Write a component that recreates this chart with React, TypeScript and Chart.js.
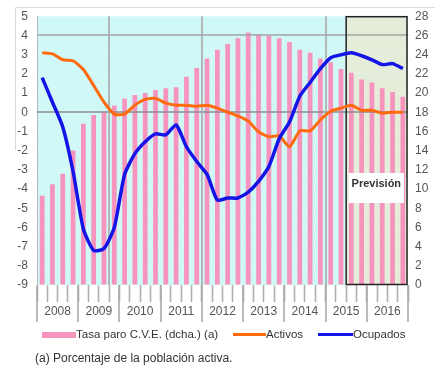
import React, { useEffect, useRef } from "react";
import { Chart, registerables } from "chart.js";

Chart.register(...registerables);

// ---------- data ----------
const quarters = [
  "2008-I", "2008-II", "2008-III", "2008-IV",
  "2009-I", "2009-II", "2009-III", "2009-IV",
  "2010-I", "2010-II", "2010-III", "2010-IV",
  "2011-I", "2011-II", "2011-III", "2011-IV",
  "2012-I", "2012-II", "2012-III", "2012-IV",
  "2013-I", "2013-II", "2013-III", "2013-IV",
  "2014-I", "2014-II", "2014-III", "2014-IV",
  "2015-I", "2015-II", "2015-III", "2015-IV",
  "2016-I", "2016-II", "2016-III", "2016-IV",
];
const yearLabels = ["2008", "2009", "2010", "2011", "2012", "2013", "2014", "2015", "2016"];

// Tasa de paro C.V.E. (% de la población activa, eje derecho)
const tasaParo = [
  9.3, 10.5, 11.6, 14.0,
  16.8, 17.7, 18.0, 18.7,
  19.4, 19.8, 20.0, 20.3,
  20.5, 20.6, 21.7, 22.6,
  23.6, 24.5, 25.1, 25.7,
  26.3, 26.1, 26.0, 25.7,
  25.3, 24.5, 24.2, 23.6,
  23.2, 22.5, 22.1, 21.4,
  21.1, 20.5, 20.1, 19.6,
];
// Activos (variación %, eje izquierdo)
const activos = [
  3.09, 3.04, 2.73, 2.68,
  2.22, 1.39, 0.52, -0.1,
  -0.1, 0.37, 0.67, 0.72,
  0.47, 0.36, 0.36, 0.31,
  0.36, 0.21, 0.0, -0.2,
  -0.46, -1.02, -1.28, -1.23,
  -1.8, -0.97, -0.97, -0.4,
  0.05, 0.21, 0.36, 0.1,
  0.1, -0.05, 0.0, 0.0,
];
// Ocupados (variación %, eje izquierdo)
const ocupados = [
  1.8, 0.52, -0.77, -3.09,
  -6.08, -7.2, -7.1, -6.0,
  -3.24, -2.16, -1.54, -1.13,
  -1.18, -0.66, -1.8, -2.57,
  -3.24, -4.58, -4.47, -4.47,
  -4.16, -3.6, -2.83, -1.38,
  -0.51, 0.83, 1.55, 2.27,
  2.84, 2.99, 3.09, 2.94,
  2.73, 2.48, 2.53, 2.27,
];

const leftMin = -9;
const leftMax = 5;
const rightMin = 0;
const rightMax = 28;
const forecastFrom = "2015-III";
const forecastLabel = "Previsión";
const markedBoundaries = ["2009-IV", "2012-I", "2015-I"];
const markedLeftValues = [0, 4];

// ---------- styles ----------
const PINK = "#f794bd";
const ORANGE = "#ff6a0d";
const BLUE = "#1414e6";
const FONT = '"Liberation Sans", Arial, sans-serif';

const decorPlugin = {
  id: "decor",
  beforeDraw(chart: any) {
    const { ctx, chartArea: a, scales } = chart;
    const x = scales.x;
    const half = (x.getPixelForValue(1) - x.getPixelForValue(0)) / 2;
    ctx.save();
    ctx.fillStyle = "#d0f8f7";
    ctx.fillRect(a.left, a.top, a.right - a.left, a.bottom - a.top);
    const fx = x.getPixelForValue(quarters.indexOf(forecastFrom)) - half;
    ctx.fillStyle = "#e4ecda";
    ctx.fillRect(fx, a.top, a.right - fx, a.bottom - a.top);
    // outer frame
    ctx.strokeStyle = "#dadada";
    ctx.lineWidth = 1;
    ctx.beginPath();
    ctx.moveTo(15.5, 7.5);
    ctx.lineTo(chart.width, 7.5);
    ctx.moveTo(15.5, 7.5);
    ctx.lineTo(15.5, 150);
    ctx.stroke();
    ctx.restore();
  },
  afterDatasetDraw(chart: any, args: any) {
    if (args.meta.type !== "bar") return;
    const { ctx, chartArea: a, scales } = chart;
    const x = scales.x;
    const y = scales.y;
    const y1 = scales.y1;
    const half = (x.getPixelForValue(1) - x.getPixelForValue(0)) / 2;
    ctx.save();
    // horizontal reference lines
    markedLeftValues.forEach((v) => {
      const py = Math.round(y.getPixelForValue(v));
      ctx.strokeStyle = v === 0 ? "#8c8c8c" : "#a3a3a3";
      ctx.lineWidth = 1.6;
      ctx.beginPath();
      ctx.moveTo(a.left, py);
      ctx.lineTo(a.right, py);
      ctx.stroke();
    });
    // vertical reference lines
    markedBoundaries.forEach((q) => {
      const px = Math.round(x.getPixelForValue(quarters.indexOf(q)) - half);
      ctx.strokeStyle = "#a8a8a8";
      ctx.lineWidth = 1.6;
      ctx.beginPath();
      ctx.moveTo(px, a.top);
      ctx.lineTo(px, a.bottom);
      ctx.stroke();
    });
    // forecast box border
    const fx = x.getPixelForValue(quarters.indexOf(forecastFrom)) - half;
    ctx.strokeStyle = "#222";
    ctx.lineWidth = 1.5;
    ctx.strokeRect(fx, a.top + 0.5, a.right - 1 - fx, a.bottom - a.top - 1);
    // forecast label
    const cy = y1.getPixelForValue(10);
    const rl = fx + 2.5;
    const rr = a.right - 4;
    ctx.fillStyle = "#ffffff";
    ctx.fillRect(rl, cy - 16, rr - rl, 30);
    ctx.fillStyle = "#333";
    ctx.font = `bold 11px ${FONT}`;
    ctx.textAlign = "center";
    ctx.textBaseline = "middle";
    ctx.fillText(forecastLabel, (rl + rr) / 2, cy - 5);
    ctx.restore();
  },
  afterDraw(chart: any) {
    const { ctx, chartArea: a, scales } = chart;
    const x = scales.x;
    const half = (x.getPixelForValue(1) - x.getPixelForValue(0)) / 2;
    ctx.save();
    ctx.strokeStyle = "#ababab";
    ctx.lineWidth = 1.6;
    for (let i = 0; i <= quarters.length; i += 4) {
      const px = Math.round(
        i < quarters.length ? x.getPixelForValue(i) - half : x.getPixelForValue(i - 1) + half
      );
      ctx.beginPath();
      ctx.moveTo(px, a.bottom);
      ctx.lineTo(px, a.bottom + 37);
      ctx.stroke();
    }
    ctx.restore();
  },
};

export default function App() {
  const canvasRef = useRef<HTMLCanvasElement | null>(null);

  useEffect(() => {
    const canvas = canvasRef.current;
    if (!canvas) return;
    const chart = new Chart(canvas, {
      type: "bar",
      data: {
        labels: quarters,
        datasets: [
          {
            type: "line",
            label: "Ocupados",
            data: ocupados,
            borderColor: BLUE,
            borderWidth: 3.5,
            pointRadius: 0,
            tension: 0.2,
            yAxisID: "y",
            order: 0,
          } as any,
          {
            type: "line",
            label: "Activos",
            data: activos,
            borderColor: ORANGE,
            borderWidth: 3,
            pointRadius: 0,
            tension: 0.2,
            yAxisID: "y",
            order: 1,
          } as any,
          {
            type: "bar",
            label: "Tasa paro C.V.E. (dcha.) (a)",
            data: tasaParo,
            backgroundColor: PINK,
            borderWidth: 0,
            barPercentage: 0.46,
            categoryPercentage: 1,
            yAxisID: "y1",
            order: 2,
          },
        ],
      },
      options: {
        responsive: false,
        animation: false,
        devicePixelRatio: 1,
        layout: { padding: { top: 13, left: 0, right: 0, bottom: 0 } },
        plugins: { legend: { display: false }, tooltip: { enabled: false } },
        scales: {
          x: {
            type: "category",
            offset: true,
            afterFit: (s: any) => {
              s.height = 83;
            },
            border: { display: false },
            grid: {
              offset: true,
              drawOnChartArea: false,
              drawTicks: true,
              tickLength: 17,
              tickColor: "#b0b0b0",
              tickWidth: 1.6,
              color: "#b0b0b0",
            },
            ticks: {
              autoSkip: false,
              maxRotation: 0,
              minRotation: 0,
              padding: 2,
              labelOffset: 5.15,
              color: "#555",
              font: { family: FONT, size: 12 },
              callback: (_v: any, i: number) => (i % 4 === 1 ? yearLabels[Math.floor(i / 4)] : ""),
            },
          },
          y: {
            position: "left",
            min: leftMin,
            max: leftMax,
            afterFit: (s: any) => {
              s.width = 37;
            },
            border: { display: true, color: "#b8b8b8", width: 1, dash: [1, 3] },
            grid: {
              drawTicks: false,
              color: "rgba(255,255,255,0.75)",
              lineWidth: 1,
            },
            ticks: {
              stepSize: 1,
              padding: 9,
              color: "#555",
              font: { family: FONT, size: 12 },
            },
          },
          y1: {
            position: "right",
            min: rightMin,
            max: rightMax,
            afterFit: (s: any) => {
              s.width = 27;
            },
            border: { display: false },
            grid: { drawOnChartArea: false, drawTicks: false },
            ticks: {
              stepSize: 2,
              padding: 7,
              color: "#555",
              font: { family: FONT, size: 12 },
            },
          },
        },
      },
      plugins: [decorPlugin],
    });
    return () => chart.destroy();
  }, []);

  const text: React.CSSProperties = {
    position: "absolute",
    fontSize: "11.5px",
    lineHeight: "13px",
    color: "#333",
    whiteSpace: "nowrap",
  };

  return (
    <div
      style={{
        position: "fixed",
        left: 0,
        top: 0,
        width: 435,
        height: 368,
        background: "#fff",
        fontFamily: FONT,
        overflow: "hidden",
      }}
    >
      <canvas ref={canvasRef} width={435} height={368} style={{ position: "absolute", left: 0, top: 0 }} />
      <div style={{ position: "absolute", left: 42, top: 332, width: 34, height: 6, background: PINK }} />
      <div style={{ ...text, left: 76, top: 328 }}>Tasa paro C.V.E. (dcha.) (a)</div>
      <div style={{ position: "absolute", left: 233, top: 333, width: 33, height: 2.5, background: ORANGE }} />
      <div style={{ ...text, left: 266, top: 328 }}>Activos</div>
      <div style={{ position: "absolute", left: 318, top: 333, width: 35, height: 3, background: BLUE }} />
      <div style={{ ...text, left: 353, top: 328 }}>Ocupados</div>
      <div style={{ ...text, left: 35, top: 351, fontSize: "12px", lineHeight: "14px" }}>
        (a) Porcentaje de la población activa.
      </div>
    </div>
  );
}
